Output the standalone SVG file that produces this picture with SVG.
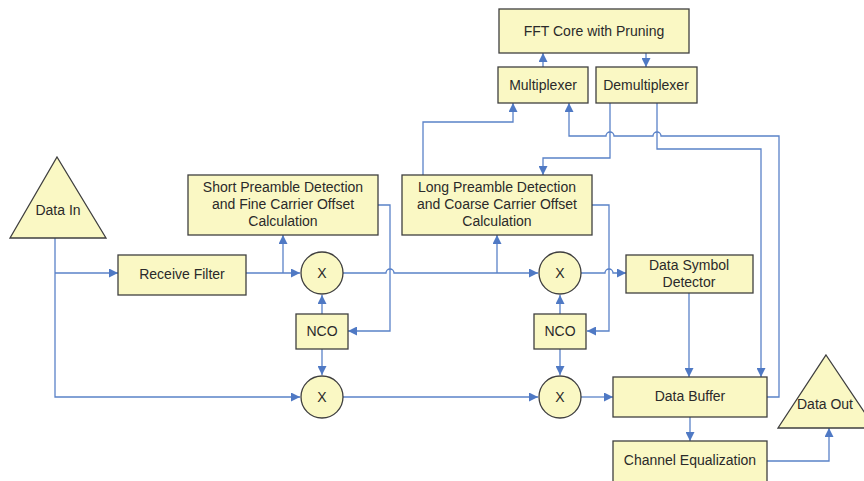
<svg xmlns="http://www.w3.org/2000/svg" width="864" height="481" viewBox="0 0 864 481">
  <defs>
    <marker id="arr" viewBox="0 0 10 10" refX="10" refY="5" markerWidth="9" markerHeight="9" markerUnits="userSpaceOnUse" orient="auto">
      <path d="M0,0 L10,5 L0,10 z" fill="#4f79c4"/>
    </marker>
    <style>
      .box { fill: #faf8c4; stroke: #3f3f3f; stroke-width: 1.3; }
      .lbl { font-family: "Liberation Sans", Arial, sans-serif; font-size: 14px; fill: #2a2a2a; text-anchor: middle; }
      .wire { fill: none; stroke: #5a82c8; stroke-width: 1.3; }
    </style>
  </defs>
  <rect width="864" height="481" fill="#ffffff"/>

  <!-- connectors -->
  <g id="connectors">
    <!-- Data In to receive filter and lower mixer -->
    <path class="wire" d="M55,238 V397 H300" marker-end="url(#arr)"/>
    <path class="wire" d="M55,273 H118" marker-end="url(#arr)"/>
    <!-- receive filter to first mixer, tap to short preamble -->
    <path class="wire" d="M246,273 H300" marker-end="url(#arr)"/>
    <path class="wire" d="M283,273 V235" marker-end="url(#arr)"/>
    <!-- first mixer to second mixer with hop over x=390 -->
    <path class="wire" d="M343,273 H386 a4,4 0 0 1 8,0 H538" marker-end="url(#arr)"/>
    <path class="wire" d="M497,273 V235" marker-end="url(#arr)"/>
    <!-- second mixer to data symbol detector with hop over x=609 -->
    <path class="wire" d="M581,273 H605 a4,4 0 0 1 8,0 H626" marker-end="url(#arr)"/>
    <!-- short preamble to NCO 1 -->
    <path class="wire" d="M378,205 H390 V331 H348" marker-end="url(#arr)"/>
    <!-- long preamble to NCO 2 -->
    <path class="wire" d="M592,205 H609 V331 H587" marker-end="url(#arr)"/>
    <!-- NCO outputs -->
    <path class="wire" d="M322,314 V295" marker-end="url(#arr)"/>
    <path class="wire" d="M322,349 V375" marker-end="url(#arr)"/>
    <path class="wire" d="M560,314 V295" marker-end="url(#arr)"/>
    <path class="wire" d="M560,349 V375" marker-end="url(#arr)"/>
    <!-- lower mixer chain -->
    <path class="wire" d="M343,397 H538" marker-end="url(#arr)"/>
    <path class="wire" d="M581,397 H613" marker-end="url(#arr)"/>
    <!-- data symbol detector to data buffer -->
    <path class="wire" d="M689,293 V377" marker-end="url(#arr)"/>
    <!-- data buffer to channel equalization -->
    <path class="wire" d="M690,417 V441" marker-end="url(#arr)"/>
    <!-- channel equalization to data out -->
    <path class="wire" d="M767,461 H829 V428" marker-end="url(#arr)"/>
    <!-- long preamble to multiplexer -->
    <path class="wire" d="M423,175 V122 H513 V103" marker-end="url(#arr)"/>
    <!-- data buffer back to multiplexer, hopping over demux outputs -->
    <path class="wire" d="M767,397 H779 V136 H661 a4,4 0 0 0 -8,0 H614 a4,4 0 0 0 -8,0 H569 V103" marker-end="url(#arr)"/>
    <!-- demultiplexer outputs -->
    <path class="wire" d="M610,103 V158 H543 V175" marker-end="url(#arr)"/>
    <path class="wire" d="M657,103 V149 H761 V377" marker-end="url(#arr)"/>
    <!-- FFT core links -->
    <path class="wire" d="M543,67 V53" marker-end="url(#arr)"/>
    <path class="wire" d="M646,53 V67" marker-end="url(#arr)"/>
  </g>

  <g id="data-in">
    <polygon class="box" points="57,157 106,238 10,238"/>
    <text class="lbl" x="58" y="215">Data In</text>
  </g>
  <g id="receive-filter">
    <rect class="box" x="118" y="255" width="128" height="40"/>
    <text class="lbl" x="182" y="279">Receive Filter</text>
  </g>
  <g id="short-preamble">
    <rect class="box" x="188" y="175" width="190" height="60"/>
    <text class="lbl" x="283" y="192">Short Preamble Detection</text>
    <text class="lbl" x="283" y="209">and Fine Carrier Offset</text>
    <text class="lbl" x="283" y="226">Calculation</text>
  </g>
  <g id="long-preamble">
    <rect class="box" x="402" y="175" width="190" height="60"/>
    <text class="lbl" x="497" y="192">Long Preamble Detection</text>
    <text class="lbl" x="497" y="209">and Coarse Carrier Offset</text>
    <text class="lbl" x="497" y="226">Calculation</text>
  </g>
  <g id="fft-core">
    <rect class="box" x="499" y="9" width="190" height="44"/>
    <text class="lbl" x="594" y="36">FFT Core with Pruning</text>
  </g>
  <g id="multiplexer">
    <rect class="box" x="498" y="67" width="90" height="36"/>
    <text class="lbl" x="543" y="90">Multiplexer</text>
  </g>
  <g id="demultiplexer">
    <rect class="box" x="596" y="67" width="101" height="36"/>
    <text class="lbl" x="646" y="90">Demultiplexer</text>
  </g>
  <g id="mixer-1">
    <circle class="box" cx="322" cy="273" r="21"/>
    <text class="lbl" x="322" y="278">X</text>
  </g>
  <g id="mixer-2">
    <circle class="box" cx="560" cy="273" r="21"/>
    <text class="lbl" x="560" y="278">X</text>
  </g>
  <g id="mixer-3">
    <circle class="box" cx="322" cy="397" r="21"/>
    <text class="lbl" x="322" y="402">X</text>
  </g>
  <g id="mixer-4">
    <circle class="box" cx="560" cy="397" r="21"/>
    <text class="lbl" x="560" y="402">X</text>
  </g>
  <g id="nco-1">
    <rect class="box" x="296" y="314" width="52" height="35"/>
    <text class="lbl" x="322" y="336">NCO</text>
  </g>
  <g id="nco-2">
    <rect class="box" x="534" y="314" width="52" height="35"/>
    <text class="lbl" x="560" y="336">NCO</text>
  </g>
  <g id="data-symbol-detector">
    <rect class="box" x="626" y="255" width="127" height="38"/>
    <text class="lbl" x="689" y="270">Data Symbol</text>
    <text class="lbl" x="689" y="287">Detector</text>
  </g>
  <g id="data-buffer">
    <rect class="box" x="613" y="377" width="154" height="40"/>
    <text class="lbl" x="690" y="401">Data Buffer</text>
  </g>
  <g id="channel-equalization">
    <rect class="box" x="613" y="441" width="154" height="44"/>
    <text class="lbl" x="690" y="465">Channel Equalization</text>
  </g>
  <g id="data-out">
    <polygon class="box" points="826,355 875,428 778,428"/>
    <text class="lbl" x="825" y="409">Data Out</text>
  </g>
</svg>
